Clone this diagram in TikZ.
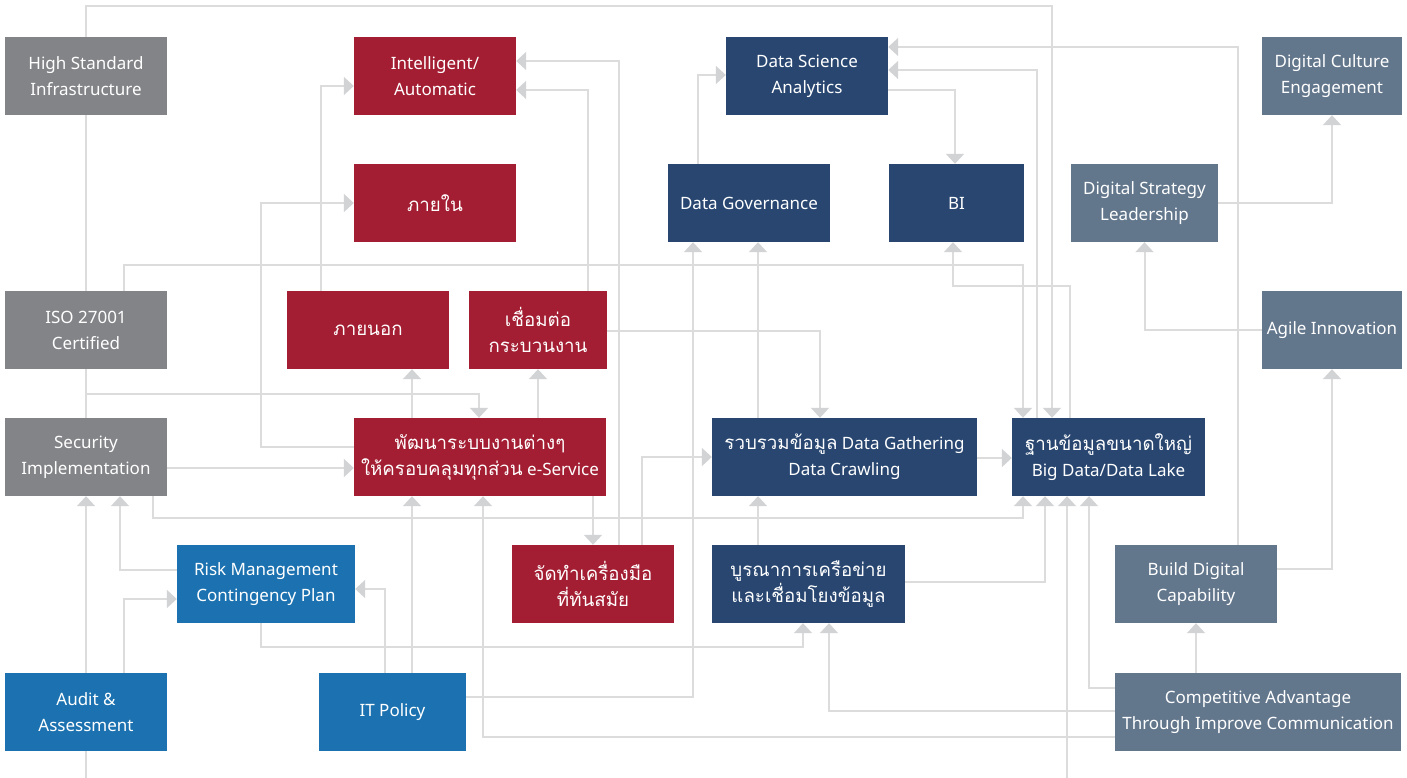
\documentclass[tikz,border=0pt]{standalone}
\usepackage{fontspec}
\setmainfont{Noto Sans}
\newfontfamily\thai[Script=Thai,Scale=1.1]{Loma}
\usetikzlibrary{arrows.meta}
\definecolor{cgray}{HTML}{838488}
\definecolor{cred}{HTML}{A31E32}
\definecolor{cnavy}{HTML}{284670}
\definecolor{cblue}{HTML}{1C72B0}
\definecolor{cslate}{HTML}{62768C}
\definecolor{cline}{HTML}{DCDCDD}
\definecolor{carrow}{HTML}{D2D3D5}
\pgfdeclarelayer{bg}
\pgfsetlayers{bg,main}
\begin{document}
\begin{tikzpicture}[x=1pt,y=-1pt,
  box/.style={minimum height=78pt, inner sep=0pt, align=center, text=white,
    font=\fontsize{17}{26}\selectfont},
  gbox/.style={box, fill=cgray, minimum width=162pt},
  rbox/.style={box, fill=cred},
  nbox/.style={box, fill=cnavy},
  bbox/.style={box, fill=cblue},
  sbox/.style={box, fill=cslate},
  conn/.style={draw=cline, line width=2pt},
  arr/.style={conn, -{Triangle[width=18pt,length=10pt,color=carrow]}}]
\useasboundingbox (0,0) rectangle (1407,778);
% nodes
\node[gbox] (hs) at (86,76) {High Standard\\Infrastructure};
\node[gbox] (iso) at (86,330) {ISO 27001\\Certified};
\node[gbox] (si) at (86,457) {Security\\Implementation};
\node[bbox, minimum width=178pt] (rm) at (266,584) {Risk Management\\Contingency Plan};
\node[bbox, minimum width=162pt] (audit) at (86,712) {Audit \&\\Assessment};
\node[bbox, minimum width=147pt] (itp) at (392.5,712) {IT Policy};
\node[rbox, minimum width=162pt] (intel) at (435,76) {Intelligent/\\Automatic};
\node[rbox, minimum width=162pt] (inner) at (435,203) {\thai ภายใน};
\node[rbox, minimum width=162pt] (outer) at (368,330) {\thai ภายนอก};
\node[rbox, minimum width=138pt] (link) at (538,330) {\thai เชื่อมต่อ\\\thai กระบวนงาน};
\node[rbox, minimum width=252pt] (dev) at (480,457) {\thai พัฒนาระบบงานต่างๆ\\{\thai ให้ครอบคลุมทุกส่วน} e-Service};
\node[rbox, minimum width=162pt] (tool) at (593,584) {\thai จัดทำเครื่องมือ\\\thai ที่ทันสมัย};
\node[nbox, minimum width=162pt] (dsa) at (807,76) {Data Science\\Analytics};
\node[nbox, minimum width=162pt] (dg) at (749,203) {Data Governance};
\node[nbox, minimum width=135pt] (bi) at (956.5,203) {BI};
\node[nbox, minimum width=265pt] (gather) at (844.5,457) {{\thai รวบรวมข้อมูล} Data Gathering\\Data Crawling};
\node[nbox, minimum width=193pt] (bigdata) at (1108.5,457) {\thai ฐานข้อมูลขนาดใหญ่\\Big Data/Data Lake};
\node[nbox, minimum width=193pt] (integ) at (808.5,584) {\thai บูรณาการเครือข่าย\\\thai และเชื่อมโยงข้อมูล};
\node[sbox, minimum width=140pt] (dce) at (1332,76) {Digital Culture\\Engagement};
\node[sbox, minimum width=147pt] (dsl) at (1144.5,203) {Digital Strategy\\Leadership};
\node[sbox, minimum width=140pt] (agile) at (1332,330) {Agile Innovation};
\node[sbox, minimum width=162pt] (bdc) at (1196,584) {Build Digital\\Capability};
\node[sbox, minimum width=286pt] (ca) at (1258,712) {Competitive Advantage\\Through Improve Communication};
\coordinate (auditout) at (86,778);
\coordinate (bigin) at (1067,778);
% connectors
\begin{pgfonlayer}{bg}
\draw[arr] (hs.north) |- (1052,6) -- (bigdata.north -| 1052,0);
\draw[conn] (hs.south) -- (iso.north);
\draw[conn] (iso.south) -- (si.north);
\draw[arr] (iso.south |- 0,394) -| (dev.north -| 479,0);
\draw[arr] (iso.north -| 124,0) |- (1023,265) -- (bigdata.north -| 1023,0);
\draw[arr] (bigdata.north -| 1037,0) |- (dsa.east |- 0,70);
\draw[arr] (bigdata.north -| 1070,0) |- (953,286) -- (bi.south -| 953,0);
\draw[arr] (bdc.north -| 1238,0) |- (dsa.east |- 0,47);
\draw[arr] (dsa.east |- 0,90) -| (bi.north -| 955,0);
\draw[arr] (dsl.east) -| (dce.south);
\draw[arr] (agile.west) -| (dsl.south);
\draw[arr] (bdc.east |- 0,569) -| (agile.south);
\draw[arr] (ca.north -| bdc.south) -- (bdc.south);
\draw[arr] (ca.west |- 0,688) -| (bigdata.south -| 1089,0);
\draw[arr] (bigin) -- (bigdata.south -| bigin);
\draw[arr] (integ.east |- 0,582) -| (bigdata.south -| 1045,0);
\draw[arr] (si.south -| 153,0) |- (1023,518) -- (bigdata.south -| 1023,0);
\draw[arr] (ca.west |- 0,711) -| (integ.south -| 829,0);
\draw[arr] (ca.west |- 0,737) -| (dev.south -| 483,0);
\draw[arr] (itp.east |- 0,697) -| (dg.south -| 693,0);
\draw[arr] (rm.south -| 261,0) |- (803,647) -- (integ.south -| 803,0);
\draw[arr] (dev.south -| tool.north) -- (tool.north);
\draw[arr] (tool.north -| 619,0) |- (intel.east |- 0,61);
\draw[arr] (tool.north -| 642,0) |- (gather.west);
\draw[arr] (link.north -| 588,0) |- (intel.east |- 0,90);
\draw[arr] (outer.north -| 321,0) |- (intel.west |- 0,86);
\draw[arr] (dev.west |- 0,447) -| (261,203) -- (inner.west);
\draw[arr] (dev.north -| 412,0) -- (outer.south -| 412,0);
\draw[arr] (dev.north -| link.south) -- (link.south);
\draw[arr] (si.east |- 0,468) -- (dev.west |- 0,468);
\draw[arr] (audit.north) -- (si.south);
\draw[conn] (audit.south) -- (auditout);
\draw[arr] (rm.west |- 0,570) -| (si.south -| 120,0);
\draw[arr] (audit.north -| 124,0) |- (rm.west |- 0,599);
\draw[arr] (itp.north -| 385,0) |- (rm.east |- 0,589);
\draw[arr] (itp.north -| 412,0) -- (dev.south -| 412,0);
\draw[arr] (gather.east |- 0,458) -- (bigdata.west |- 0,458);
\draw[arr] (integ.north -| 758,0) -- (gather.south -| 758,0);
\draw[arr] (gather.north -| 758,0) -- (dg.south -| 758,0);
\draw[arr] (link.east |- 0,331) -| (gather.north -| 820,0);
\draw[arr] (dg.north -| 698,0) |- (dsa.west |- 0,75);
\end{pgfonlayer}
\end{tikzpicture}
\end{document}
